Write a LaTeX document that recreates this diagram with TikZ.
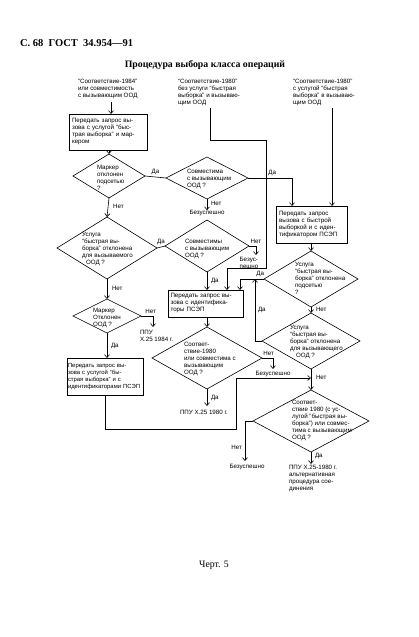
\documentclass[tikz,border=0pt]{standalone}
\usepackage{fontspec}
\setmainfont{Liberation Sans}
\newfontfamily\serifb{Liberation Serif}
\usetikzlibrary{shapes.geometric,arrows.meta}
\begin{document}
\begin{tikzpicture}[x=1pt,y=-1pt,
  every node/.style={font=\fontsize{6.2}{7}\selectfont, inner sep=0pt, outer sep=0pt},
  txt/.style={align=left},
  dtxt/.style={align=left, anchor=west},
  boxn/.style={draw, line width=0.8pt, align=left},
  dia/.style={draw, diamond, line width=0.6pt, inner sep=0pt},
  ln/.style={line width=0.6pt},
  arr/.style={ln, -{Straight Barb[length=3pt,width=5pt]}}]
\useasboundingbox (0,0) rectangle (419,637);

% header and title
\node[anchor=west, font=\serifb\bfseries\fontsize{10.5}{12}\selectfont] (hdr) at (20,43) {С.~68~~ГОСТ~~34.954—91};
\node[font=\serifb\bfseries\fontsize{9.8}{11}\selectfont] (title) at (205,65) {Процедура выбора класса операций};

% top texts
\node[txt, anchor=north west] (t1) at (78,79) {“Соответствие-1984”\\или совместимость\\с вызывающим ООД};
\node[txt, anchor=north west] (t2) at (178,79) {“Соответствие-1980”\\без услуги “быстрая\\выборка” и вызываю-\\щим ООД};
\node[txt, anchor=north west] (t3) at (293,79) {“Соответствие-1980”\\с услугой “быстрая\\выборка” в вызываю-\\щим ООД};

% boxes
\node[boxn, minimum width=78, minimum height=36, text width=72] (box1) at (108,132) {Передать запрос вы-\\зова с услугой “быс-\\трая выборка” и мар-\\кером};
\node[boxn, minimum width=71, minimum height=37, text width=65] (boxR) at (311.5,224.5) {Передать запрос\\вызова с быстрой\\выборкой и с иден-\\тификатором ПСЭП};
\node[boxn, minimum width=75, minimum height=27, text width=70] (boxM) at (205.5,303.5) {Передать запрос вы-\\зова с идентифика-\\торы ПСЭП};
\node[boxn, minimum width=76, minimum height=37, text width=76, font=\fontsize{5.9}{7}\selectfont] (boxL) at (105,376.5) {\hspace*{1pt}Передать запрос вы-\\\hspace*{1pt}зова с услугой “бы-\\\hspace*{1pt}страя выборка” и с\\\hspace*{1pt}идентификаторами ПСЭП};

% diamonds
\node[dia, minimum width=72, minimum height=44] (d1) at (109,176) {};
\node[dtxt] at (97,178) {Маркер\\отклонен\\подсетью\\?};
\node[dia, minimum width=82, minimum height=42] (d2) at (207,178) {};
\node[dtxt] at (187,179) {Совместима\\с вызывающим\\ООД ?};
\node[dia, minimum width=100, minimum height=62] (dL2) at (107,248) {};
\node[dtxt] at (82,249) {Услуга\\“быстрая вы-\\борка” отклонена\\для вызываемого\\\hspace*{4pt}ООД ?};
\node[dia, minimum width=84, minimum height=52] (d3) at (207,246) {};
\node[dtxt] at (185,249) {Совместимы\\с вызывающим\\ООД ?};
\node[dia, minimum width=68, minimum height=34] (dL3) at (107,316) {};
\node[dtxt] at (93,318) {Маркер\\Отклонен\\ООД ?};
\node[dia, minimum width=94, minimum height=56] (d4) at (311,279) {};
\node[dtxt] at (295,278) {Услуга\\“быстрая вы-\\борка” отклонена\\подсетью\\?};
\node[dia, minimum width=98, minimum height=56] (d5) at (311,341) {};
\node[dtxt] at (290,342) {Услуга\\“быстрая вы-\\борка” отклонена\\для вызывающего\\\hspace*{6pt}ООД ?};
\node[dia, minimum width=110, minimum height=62] (d6) at (207,358) {};
\node[dtxt] at (184,359) {Соответ-\\ствие-1980\\или совместима с\\вызывающим\\ООД ?};
\node[dia, minimum width=116, minimum height=62] (d7) at (311,421) {};
\node[dtxt] at (292,420) {Соответ-\\ствие 1980 (с ус-\\лугой “быстрая вы-\\борка”) или совмес-\\тима с вызывающим\\ООД ?};

% terminal texts
\node (b1) at (207,213) {Безуспешно};
\node[txt] (b2) at (249,263) {Безус-\\пешно};
\node[txt, anchor=north west] (p84) at (140,330) {ППУ\\Х.25 1984 г.};
\node (b3) at (273,374) {Безуспешно};
\node[anchor=west] (p80) at (180,412) {ППУ Х.25 1980 г.};
\node (b4) at (247,467) {Безуспешно};
\node[txt, anchor=north west] (p80a) at (289,465) {ППУ Х.25-1980 г.\\альтернативная\\процедура сое-\\динения};

% caption
\node[font=\serifb\fontsize{9.8}{11}\selectfont] (cap) at (214,565) {Черт. 5};

% coordinates
\coordinate (c1) at (111,102);
\coordinate (c2) at (210,108);
\coordinate (c3) at (332,108);
\coordinate (k1) at (292,178);
\coordinate (k2) at (227,268);
\coordinate (k3) at (240,279);
\coordinate (k4) at (255,341);

% connectors
\draw[arr] (c1) -- (c1 |- box1.north);
\draw[arr] (box1.south -| d1.north) -- (d1.north);
\draw[ln] (d1.east) -- node[above=2pt, pos=0.5] {Да} (d2.west);
\draw[arr] (d2.east) -- node[above=2pt, pos=0.55] {Да} (k1) -- (k1 |- boxR.north);
\draw[arr] (c3) -- (c3 |- boxR.north);
\draw[arr] (c2) -- (210,140) -- (266,140) -- (266,268) -- (k2) -- (k2 |- boxM.north);
\draw[arr] (d2.south) -- node[right=4pt, pos=0.35] {Нет} (b1.north);
\draw[arr] (d1.south) -- node[right=5pt, pos=0.45] {Нет} (dL2.north);
\draw[ln] (dL2.east) -- node[above=2pt] {Да} (d3.west);
\draw[arr] (d3.south) -- node[right=4pt, pos=0.5] {Да} (boxM.north -| d3.south);
\draw[arr] (d3.east) -- node[above=2pt, pos=1] {Нет} (256,246) -- (256,255);
\draw[arr] (dL2.south) -- node[right=5pt, pos=0.45] {Нет} (dL3.north);
\draw[arr] (dL3.east) -- node[above=2pt, pos=0.8] {Нет} (153,316) -- (153,327);
\draw[arr] (dL3.south) -- node[right=4pt, pos=0.5] {Да} (boxL.north -| dL3.south);
\draw[arr] (boxL.south) -- (105,429) -- (236,429) -- (236,378) -- (311,378);
\draw[arr] (boxM.south -| d6.north) -- (d6.north);
\draw[arr] (d6.east) -- node[above=2pt, pos=0.6] {Нет} (273,358) -- (273,369);
\draw[arr] (d6.south) -- node[right=4pt, pos=0.5] {Да} (207,406);
\draw[arr] (boxR.south -| d4.north) -- (d4.north);
\draw[arr] (d4.west) -- node[above=2pt, pos=0.0, anchor=south east] {Да} (k3) -- (k3 |- boxM.north);
\draw[arr] (d5.west) -- (k4) -- node[right=3pt, pos=0.5] {Да} (k4 |- d4.west);
\draw[arr] (d4.south) -- node[right=5pt, pos=0.4] {Нет} (d5.north);
\draw[arr] (d5.south) -- node[right=5pt, pos=0.4] {Нет} (d7.north);
\draw[arr] (d7.west) -- (245,421) -- node[left=3pt, pos=0.65] {Нет} (245,461);
\draw[arr] (d7.south) -- node[right=4pt, pos=0.3] {Да} (311,464);
\end{tikzpicture}
\end{document}
